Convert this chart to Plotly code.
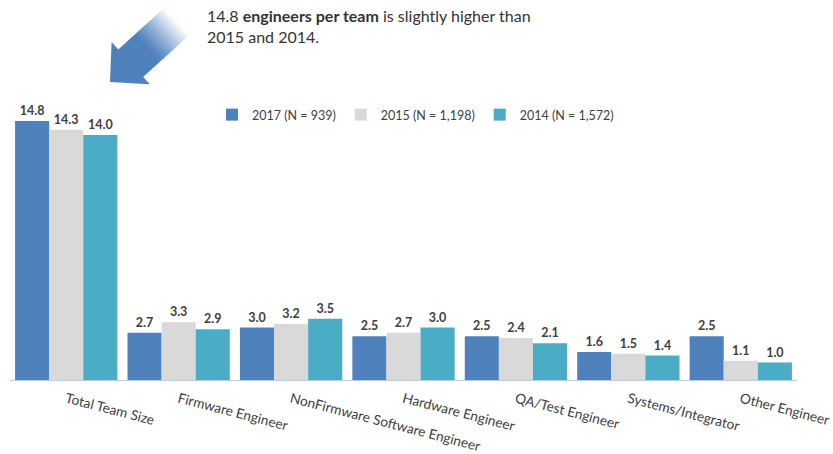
import numpy as np
import plotly.graph_objects as go

# Average engineering team composition by survey year
categories = ["Total Team Size", "Firmware Engineer", "NonFirmware Software Engineer",
              "Hardware Engineer", "QA/Test Engineer", "Systems/Integrator", "Other Engineer"]
series_names = ["2017 (N = 939)", "2015 (N = 1,198)", "2014 (N = 1,572)"]
values_2017 = [14.8, 2.7, 3.0, 2.5, 2.5, 1.6, 2.5]
values_2015 = [14.3, 3.3, 3.2, 2.7, 2.4, 1.5, 1.1]
values_2014 = [14.0, 2.9, 3.5, 3.0, 2.1, 1.4, 1.0]
colors = ["#4F81BD", "#D9D9D9", "#4BACC6"]

W, H = 833, 454
ML, MR, MT, MB = 10, 36, 100, 74
PW, PH = W - ML - MR, H - MT - MB
FONT = "Lato"
TXT = "#404040"


def to_paper(px, py):
    return (px - ML) / PW, 1 - (py - MT) / PH


fig = go.Figure()
for name, vals, col in zip(series_names, [values_2017, values_2015, values_2014], colors):
    fig.add_trace(go.Bar(
        x=categories, y=vals, name=name,
        marker=dict(color=col, line=dict(width=0)),
        text=[f"{v:.1f}" for v in vals], textposition="outside",
        textfont=dict(family=FONT, size=12.5, color=TXT, weight="bold"),
        constraintext="none", cliponaxis=False,
    ))

# Call-out arrow pointing at the total team size bars (shaft fades out toward the tail)
tip = np.array([110.0, 82.0])
axis_u = np.array([0.741, -0.672])
axis_u /= np.linalg.norm(axis_u)
axis_v = np.array([-axis_u[1], axis_u[0]])


def local(u, v):
    return tip + u * axis_u + v * axis_v


def path_from(points):
    pts = [to_paper(*p) for p in points]
    return "M " + " L ".join(f"{x:.5f},{y:.5f}" for x, y in pts) + " Z"


head_len, head_half, shaft_half, solid_end, tail_end = 28, 28.5, 18.5, 50, 90
shapes = []
solid = [local(0, 0), local(head_len, head_half), local(head_len, shaft_half),
         local(solid_end + 0.6, shaft_half), local(solid_end + 0.6, -shaft_half),
         local(head_len, -shaft_half), local(head_len, -head_half)]
shapes.append(dict(type="path", xref="paper", yref="paper", path=path_from(solid),
                   fillcolor="#4F81BD", line=dict(width=0), layer="above"))
n_steps = 24
blue = np.array([0x4F, 0x81, 0xBD], dtype=float)
white = np.array([255, 255, 255], dtype=float)
edges = np.linspace(solid_end, tail_end, n_steps + 1)
for i in range(n_steps):
    t = (i + 0.5) / n_steps
    c = blue + (white - blue) * t ** 1.2
    u0, u1 = edges[i], edges[i + 1] + 0.6
    strip = [local(u0, shaft_half), local(u1, shaft_half),
             local(u1, -shaft_half), local(u0, -shaft_half)]
    shapes.append(dict(type="path", xref="paper", yref="paper", path=path_from(strip),
                       fillcolor=f"rgb({int(c[0])},{int(c[1])},{int(c[2])})",
                       line=dict(width=0), layer="above"))

ax, ay = to_paper(205, 4)
fig.add_annotation(
    xref="paper", yref="paper", x=ax, y=ay, xanchor="left", yanchor="top",
    showarrow=False, align="left",
    text="14.8 <b>engineers per team</b> is slightly higher than<br>2015 and 2014.",
    font=dict(family=FONT, size=16, color="#333333"),
)

lx, ly = to_paper(212, 115)
fig.update_layout(
    width=W, height=H,
    margin=dict(l=ML, r=MR, t=MT, b=MB, pad=0, autoexpand=False),
    paper_bgcolor="white", plot_bgcolor="white",
    barmode="group", bargap=0.09, bargroupgap=0,
    showlegend=True,
    legend=dict(orientation="h", x=lx, y=ly, xanchor="left", yanchor="middle",
                font=dict(family=FONT, size=12.5, color=TXT),
                bgcolor="rgba(0,0,0,0)", itemwidth=30, tracegroupgap=0),
    font=dict(family=FONT, color=TXT),
    shapes=shapes,
    xaxis=dict(showline=True, linecolor="#B9CDE5", linewidth=1, ticks="",
               tickangle=14.5, ticklabelstandoff=5, automargin=False,
               tickfont=dict(family=FONT, size=13.7, color=TXT),
               showgrid=False, zeroline=False),
    yaxis=dict(range=[0, 16], visible=False, showgrid=False, zeroline=False,
               automargin=False),
)

fig.write_html("out.html")
